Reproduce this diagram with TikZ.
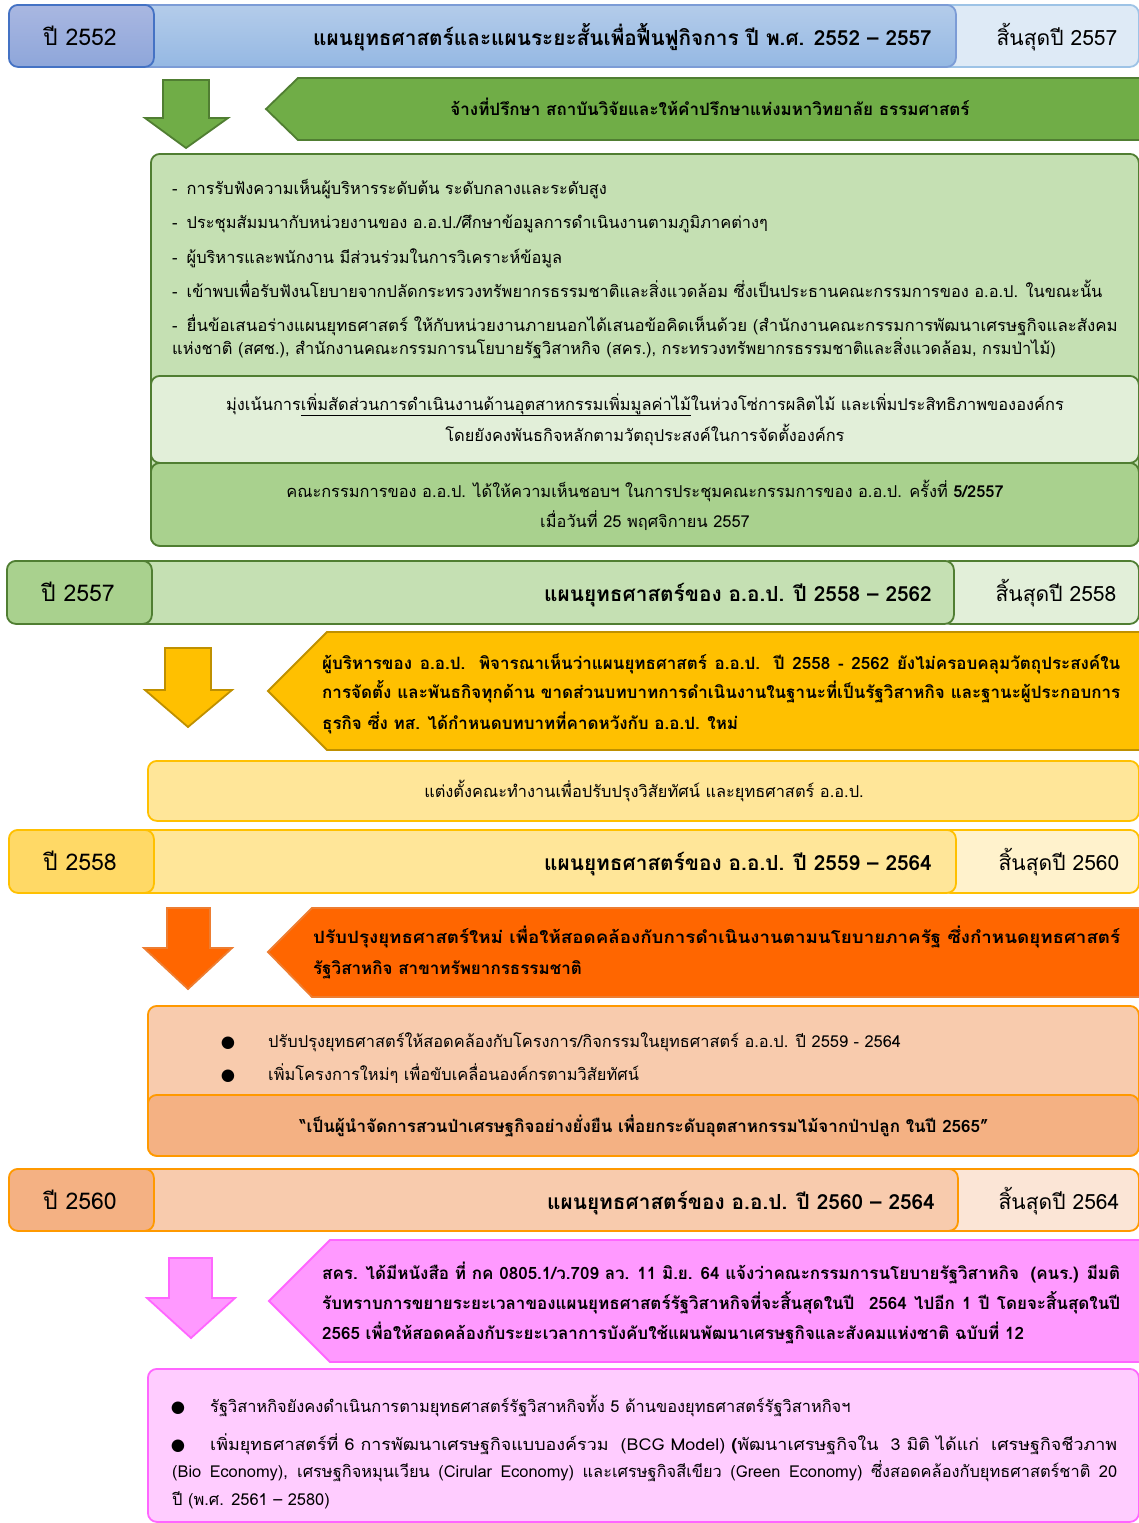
\documentclass[tikz,border=0pt]{standalone}
\usepackage{fontspec}
\usepackage{graphicx}
\setmainfont{Loma}[Script=Thai]
\newfontfamily\bulfont{DejaVu Sans}
\definecolor{bluea}{HTML}{A9B7E1}
\definecolor{blueb}{HTML}{8EA6DA}
\definecolor{bluec}{HTML}{B4CCEA}
\definecolor{blued}{HTML}{95B8E3}
\definecolor{bluee}{HTML}{DEEAF6}
\definecolor{blueline}{HTML}{4472C4}
\definecolor{blueline2}{HTML}{9DC3E6}
\definecolor{gdark}{HTML}{507E32}
\definecolor{gmid}{HTML}{70AD47}
\definecolor{gA}{HTML}{A9D18E}
\definecolor{gB}{HTML}{C5E0B3}
\definecolor{gC}{HTML}{E2EFD9}
\definecolor{yline}{HTML}{FFC000}
\definecolor{ydark}{HTML}{BF9000}
\definecolor{yA}{HTML}{FFD966}
\definecolor{yB}{HTML}{FFE699}
\definecolor{yC}{HTML}{FFF2CC}
\definecolor{oline}{HTML}{FF9900}
\definecolor{ofill}{HTML}{FF6600}
\definecolor{oedge}{HTML}{ED7D31}
\definecolor{oA}{HTML}{F4B183}
\definecolor{oB}{HTML}{F8CBAD}
\definecolor{oC}{HTML}{FBE5D6}
\definecolor{pfill}{HTML}{FF99FF}
\definecolor{pline}{HTML}{FF66FF}
\definecolor{pA}{HTML}{FFCCFF}
\tikzset{
  box/.style={rectangle, rounded corners=9pt, line width=1.8pt, draw, inner sep=0pt, anchor=north west},
  shp/.style={line width=1.8pt, line join=miter},
  ht/.style={inner sep=0pt, font=\fontsize{23}{26}\selectfont},
  he/.style={inner sep=0pt, font=\fontsize{21}{26}\selectfont},
  hm/.style={inner sep=0pt, font=\fontsize{20.8}{26}\selectfont\bfseries},
  bt/.style={inner sep=0pt, font=\fontsize{16.4}{20}\selectfont},
  bb/.style={inner sep=0pt, font=\fontsize{17}{20}\selectfont\bfseries},
}
\newcommand{\jline}[2]{\makebox[#1pt][s]{#2}}
\newcommand{\wline}[2]{\resizebox{#1pt}{\height}{#2}}
\newcommand{\dsh}{-\hspace*{9pt}}
\begin{document}
\begin{tikzpicture}[x=1pt,y=-1pt]
\useasboundingbox (0,0) rectangle (1139,1523);

% ---------- Row 1 ----------
\node[box, draw=blueline2, fill=bluee, minimum width=203pt, minimum height=62pt] (r1r) at (935,4) {};
\node[box, draw=blueline!70!white, top color=bluec, bottom color=blued, minimum width=945pt, minimum height=62pt] (r1m) at (10,4) {};
\node[box, draw=blueline, top color=bluea, bottom color=blueb, minimum width=145pt, minimum height=62pt] (r1l) at (8,4) {};
\node[ht, anchor=base] (r1y) at (80,45) {ปี 2552};
\node[hm, anchor=base east] (r1t) at (932,45) {แผนยุทธศาสตร์และแผนระยะสั้นเพื่อฟื้นฟูกิจการ ปี พ.ศ. 2552 – 2557};
\node[he, anchor=base] (r1e) at (1057,45) {สิ้นสุดปี 2557};

% arrow 1 + pentagon 1
\draw[shp, draw=gdark, fill=gmid] (163,80) -- (209,80) -- (209,118) -- (228,118) -- (186,148) -- (145,118) -- (163,118) -- cycle;
\draw[shp, draw=gdark, fill=gmid] (266,109) -- (298,78) -- (1142,78) -- (1142,140) -- (298,140) -- cycle;
\node[bb, anchor=base] (p1) at (710,115) {จ้างที่ปรึกษา สถาบันวิจัยและให้คำปรึกษาแห่งมหาวิทยาลัย ธรรมศาสตร์};

% green box
\node[box, draw=gdark, fill=gB, minimum width=988pt, minimum height=392pt] (g1) at (150,153) {};
\node[box, draw=gdark, fill=gC, minimum width=988pt, minimum height=87pt] (g2) at (150,375) {};
\node[box, draw=gdark, fill=gA, minimum width=988pt, minimum height=83pt] (g3) at (150,462) {};
\node[bt, anchor=base west] (g1a) at (172,194) {\dsh การรับฟังความเห็นผู้บริหารระดับต้น ระดับกลางและระดับสูง};
\node[bt, anchor=base west] (g1b) at (172,228) {\dsh ประชุมสัมมนากับหน่วยงานของ อ.อ.ป./ศึกษาข้อมูลการดำเนินงานตามภูมิภาคต่างๆ};
\node[bt, anchor=base west] (g1c) at (172,263) {\dsh ผู้บริหารและพนักงาน มีส่วนร่วมในการวิเคราะห์ข้อมูล};
\node[bt, anchor=base west] (g1d) at (172,297) {\dsh เข้าพบเพื่อรับฟังนโยบายจากปลัดกระทรวงทรัพยากรธรรมชาติและสิ่งแวดล้อม ซึ่งเป็นประธานคณะกรรมการของ อ.อ.ป. ในขณะนั้น};
\node[bt, anchor=base west] (g1e) at (172,331) {\dsh\wline{931}{ยื่นข้อเสนอร่างแผนยุทธศาสตร์ ให้กับหน่วยงานภายนอกได้เสนอข้อคิดเห็นด้วย (สำนักงานคณะกรรมการพัฒนาเศรษฐกิจและสังคม}};
\node[bt, anchor=base west] (g1f) at (172,354) {แห่งชาติ (สศช.), สำนักงานคณะกรรมการนโยบายรัฐวิสาหกิจ (สคร.), กระทรวงทรัพยากรธรรมชาติและสิ่งแวดล้อม, กรมป่าไม้)};
\node[bt, anchor=base] (g2a) at (645,410) {มุ่งเน้นการ\underline{เพิ่มสัดส่วนการดำเนินงานด้านอุตสาหกรรมเพิ่มมูลค่าไม้}ในห่วงโซ่การผลิตไม้ และเพิ่มประสิทธิภาพขององค์กร};
\node[bt, anchor=base] (g2b) at (645,441) {โดยยังคงพันธกิจหลักตามวัตถุประสงค์ในการจัดตั้งองค์กร};
\node[bt, anchor=base] (g3a) at (645,497) {คณะกรรมการของ อ.อ.ป. ได้ให้ความเห็นชอบฯ ในการประชุมคณะกรรมการของ อ.อ.ป. ครั้งที่ \textbf{5/2557}};
\node[bt, anchor=base] (g3b) at (645,527) {เมื่อวันที่ 25 พฤศจิกายน 2557};

% ---------- Row 2 ----------
\node[box, draw=gdark, fill=gC, minimum width=198pt, minimum height=63pt] (r2r) at (940,560) {};
\node[box, draw=gdark, fill=gB, minimum width=945pt, minimum height=63pt] (r2m) at (8,560) {};
\node[box, draw=gdark, fill=gA, minimum width=145pt, minimum height=63pt] (r2l) at (6,560) {};
\node[ht, anchor=base] (r2y) at (78,601) {ปี 2557};
\node[hm, anchor=base east] (r2t) at (932,601) {แผนยุทธศาสตร์ของ อ.อ.ป. ปี 2558 – 2562};
\node[he, anchor=base] (r2e) at (1056,601) {สิ้นสุดปี 2558};

\draw[shp, draw=ydark, fill=yline] (165,648) -- (211,648) -- (211,690) -- (232,690) -- (188,727) -- (145,690) -- (165,690) -- cycle;
\draw[shp, draw=ydark, fill=yline] (268,691) -- (327,632) -- (1142,632) -- (1142,750) -- (327,750) -- cycle;
\node[bb, anchor=base west] (p2a) at (322,669) {\jline{798}{ผู้บริหารของ อ.อ.ป. พิจารณาเห็นว่าแผนยุทธศาสตร์ อ.อ.ป. ปี 2558 - 2562 ยังไม่ครอบคลุมวัตถุประสงค์ใน}};
\node[bb, anchor=base west] (p2b) at (322,698) {\jline{798}{การจัดตั้ง และพันธกิจทุกด้าน ขาดส่วนบทบาทการดำเนินงานในฐานะที่เป็นรัฐวิสาหกิจ และฐานะผู้ประกอบการ}};
\node[bb, anchor=base west] (p2c) at (322,729) {ธุรกิจ ซึ่ง ทส. ได้กำหนดบทบาทที่คาดหวังกับ อ.อ.ป. ใหม่};

\node[box, draw=yline, fill=yB, minimum width=991pt, minimum height=60pt] (y1) at (147,760) {};
\node[bt, anchor=base] (y1a) at (644,797) {แต่งตั้งคณะทำงานเพื่อปรับปรุงวิสัยทัศน์ และยุทธศาสตร์ อ.อ.ป.};

% ---------- Row 3 ----------
\node[box, draw=yline, fill=yC, minimum width=198pt, minimum height=63pt] (r3r) at (940,829) {};
\node[box, draw=yline, fill=yB, minimum width=945pt, minimum height=63pt] (r3m) at (10,829) {};
\node[box, draw=yline, fill=yA, minimum width=145pt, minimum height=63pt] (r3l) at (8,829) {};
\node[ht, anchor=base] (r3y) at (80,870) {ปี 2558};
\node[hm, anchor=base east] (r3t) at (932,870) {แผนยุทธศาสตร์ของ อ.อ.ป. ปี 2559 – 2564};
\node[he, anchor=base] (r3e) at (1059,870) {สิ้นสุดปี 2560};

\draw[shp, draw=oedge, fill=ofill] (167,908) -- (210,908) -- (210,948) -- (232,948) -- (188,989) -- (144,948) -- (167,948) -- cycle;
\draw[shp, draw=oedge, fill=ofill] (268,952) -- (312,908) -- (1142,908) -- (1142,997) -- (312,997) -- cycle;
\node[bb, anchor=base west] (p3a) at (313,943) {\wline{807}{ปรับปรุงยุทธศาสตร์ใหม่ เพื่อให้สอดคล้องกับการดำเนินงานตามนโยบายภาครัฐ ซึ่งกำหนดยุทธศาสตร์}};
\node[bb, anchor=base west] (p3b) at (313,974) {รัฐวิสาหกิจ สาขาทรัพยากรธรรมชาติ};

\node[box, draw=oline, fill=oB, minimum width=991pt, minimum height=150pt] (o1) at (147,1005) {};
\node[box, draw=oline, fill=oA, minimum width=991pt, minimum height=61pt] (o2) at (147,1094) {};
\node[bt, anchor=base] (o1d) at (228,1047) {\bulfont ●};
\node[bt, anchor=base west] (o1a) at (268,1047) {ปรับปรุงยุทธศาสตร์ให้สอดคล้องกับโครงการ/กิจกรรมในยุทธศาสตร์ อ.อ.ป. ปี 2559 - 2564};
\node[bt, anchor=base] (o1e) at (228,1080) {\bulfont ●};
\node[bt, anchor=base west] (o1b) at (268,1080) {เพิ่มโครงการใหม่ๆ เพื่อขับเคลื่อนองค์กรตามวิสัยทัศน์};
\node[bb, anchor=base] (o2a) at (644,1132) {“เป็นผู้นำจัดการสวนป่าเศรษฐกิจอย่างยั่งยืน เพื่อยกระดับอุตสาหกรรมไม้จากป่าปลูก ในปี 2565”};

% ---------- Row 4 ----------
\node[box, draw=oline, fill=oC, minimum width=198pt, minimum height=62pt] (r4r) at (940,1168) {};
\node[box, draw=oline, fill=oB, minimum width=947pt, minimum height=62pt] (r4m) at (10,1168) {};
\node[box, draw=oline, fill=oA, minimum width=145pt, minimum height=62pt] (r4l) at (8,1168) {};
\node[ht, anchor=base] (r4y) at (80,1209) {ปี 2560};
\node[hm, anchor=base east] (r4t) at (935,1209) {แผนยุทธศาสตร์ของ อ.อ.ป. ปี 2560 – 2564};
\node[he, anchor=base] (r4e) at (1059,1209) {สิ้นสุดปี 2564};

\draw[shp, draw=pline, fill=pfill] (169,1258) -- (212,1258) -- (212,1298) -- (235,1298) -- (191,1338) -- (147,1298) -- (169,1298) -- cycle;
\draw[shp, draw=pline, fill=pfill] (269,1301) -- (330,1240) -- (1142,1240) -- (1142,1362) -- (330,1362) -- cycle;
\node[bb, anchor=base west] (p4a) at (322,1279) {\jline{798}{สคร. ได้มีหนังสือ ที่ กค 0805.1/ว.709 ลว. 11 มิ.ย. 64 แจ้งว่าคณะกรรมการนโยบายรัฐวิสาหกิจ\ \ (คนร.) มีมติ}};
\node[bb, anchor=base west] (p4b) at (322,1309) {\jline{798}{รับทราบการขยายระยะเวลาของแผนยุทธศาสตร์รัฐวิสาหกิจที่จะสิ้นสุดในปี\ \ 2564 ไปอีก 1 ปี โดยจะสิ้นสุดในปี}};
\node[bb, anchor=base west] (p4c) at (322,1339) {2565 เพื่อให้สอดคล้องกับระยะเวลาการบังคับใช้แผนพัฒนาเศรษฐกิจและสังคมแห่งชาติ ฉบับที่ 12};

\node[box, draw=pline, fill=pA, minimum width=991pt, minimum height=153pt] (k1) at (147,1368) {};
\node[bt, anchor=base] (k1d) at (178,1412) {\bulfont ●};
\node[bt, anchor=base west] (k1a) at (210,1412) {รัฐวิสาหกิจยังคงดำเนินการตามยุทธศาสตร์รัฐวิสาหกิจทั้ง 5 ด้านของยุทธศาสตร์รัฐวิสาหกิจฯ};
\node[bt, anchor=base] (k1e) at (178,1450) {\bulfont ●};
\node[bt, anchor=base west] (k1b) at (210,1450) {\wline{907}{เพิ่มยุทธศาสตร์ที่ 6 การพัฒนาเศรษฐกิจแบบองค์รวม\ \ (BCG Model) \textbf{(}พัฒนาเศรษฐกิจใน\ \ 3 มิติ ได้แก่\ \ เศรษฐกิจชีวภาพ}};
\node[bt, anchor=base west] (k1c) at (172,1477) {\jline{945}{(Bio Economy), เศรษฐกิจหมุนเวียน (Cirular Economy) และเศรษฐกิจสีเขียว (Green Economy) ซึ่งสอดคล้องกับยุทธศาสตร์ชาติ 20}};
\node[bt, anchor=base west] (k1f) at (172,1505) {ปี (พ.ศ. 2561 – 2580)};
\end{tikzpicture}
\end{document}
